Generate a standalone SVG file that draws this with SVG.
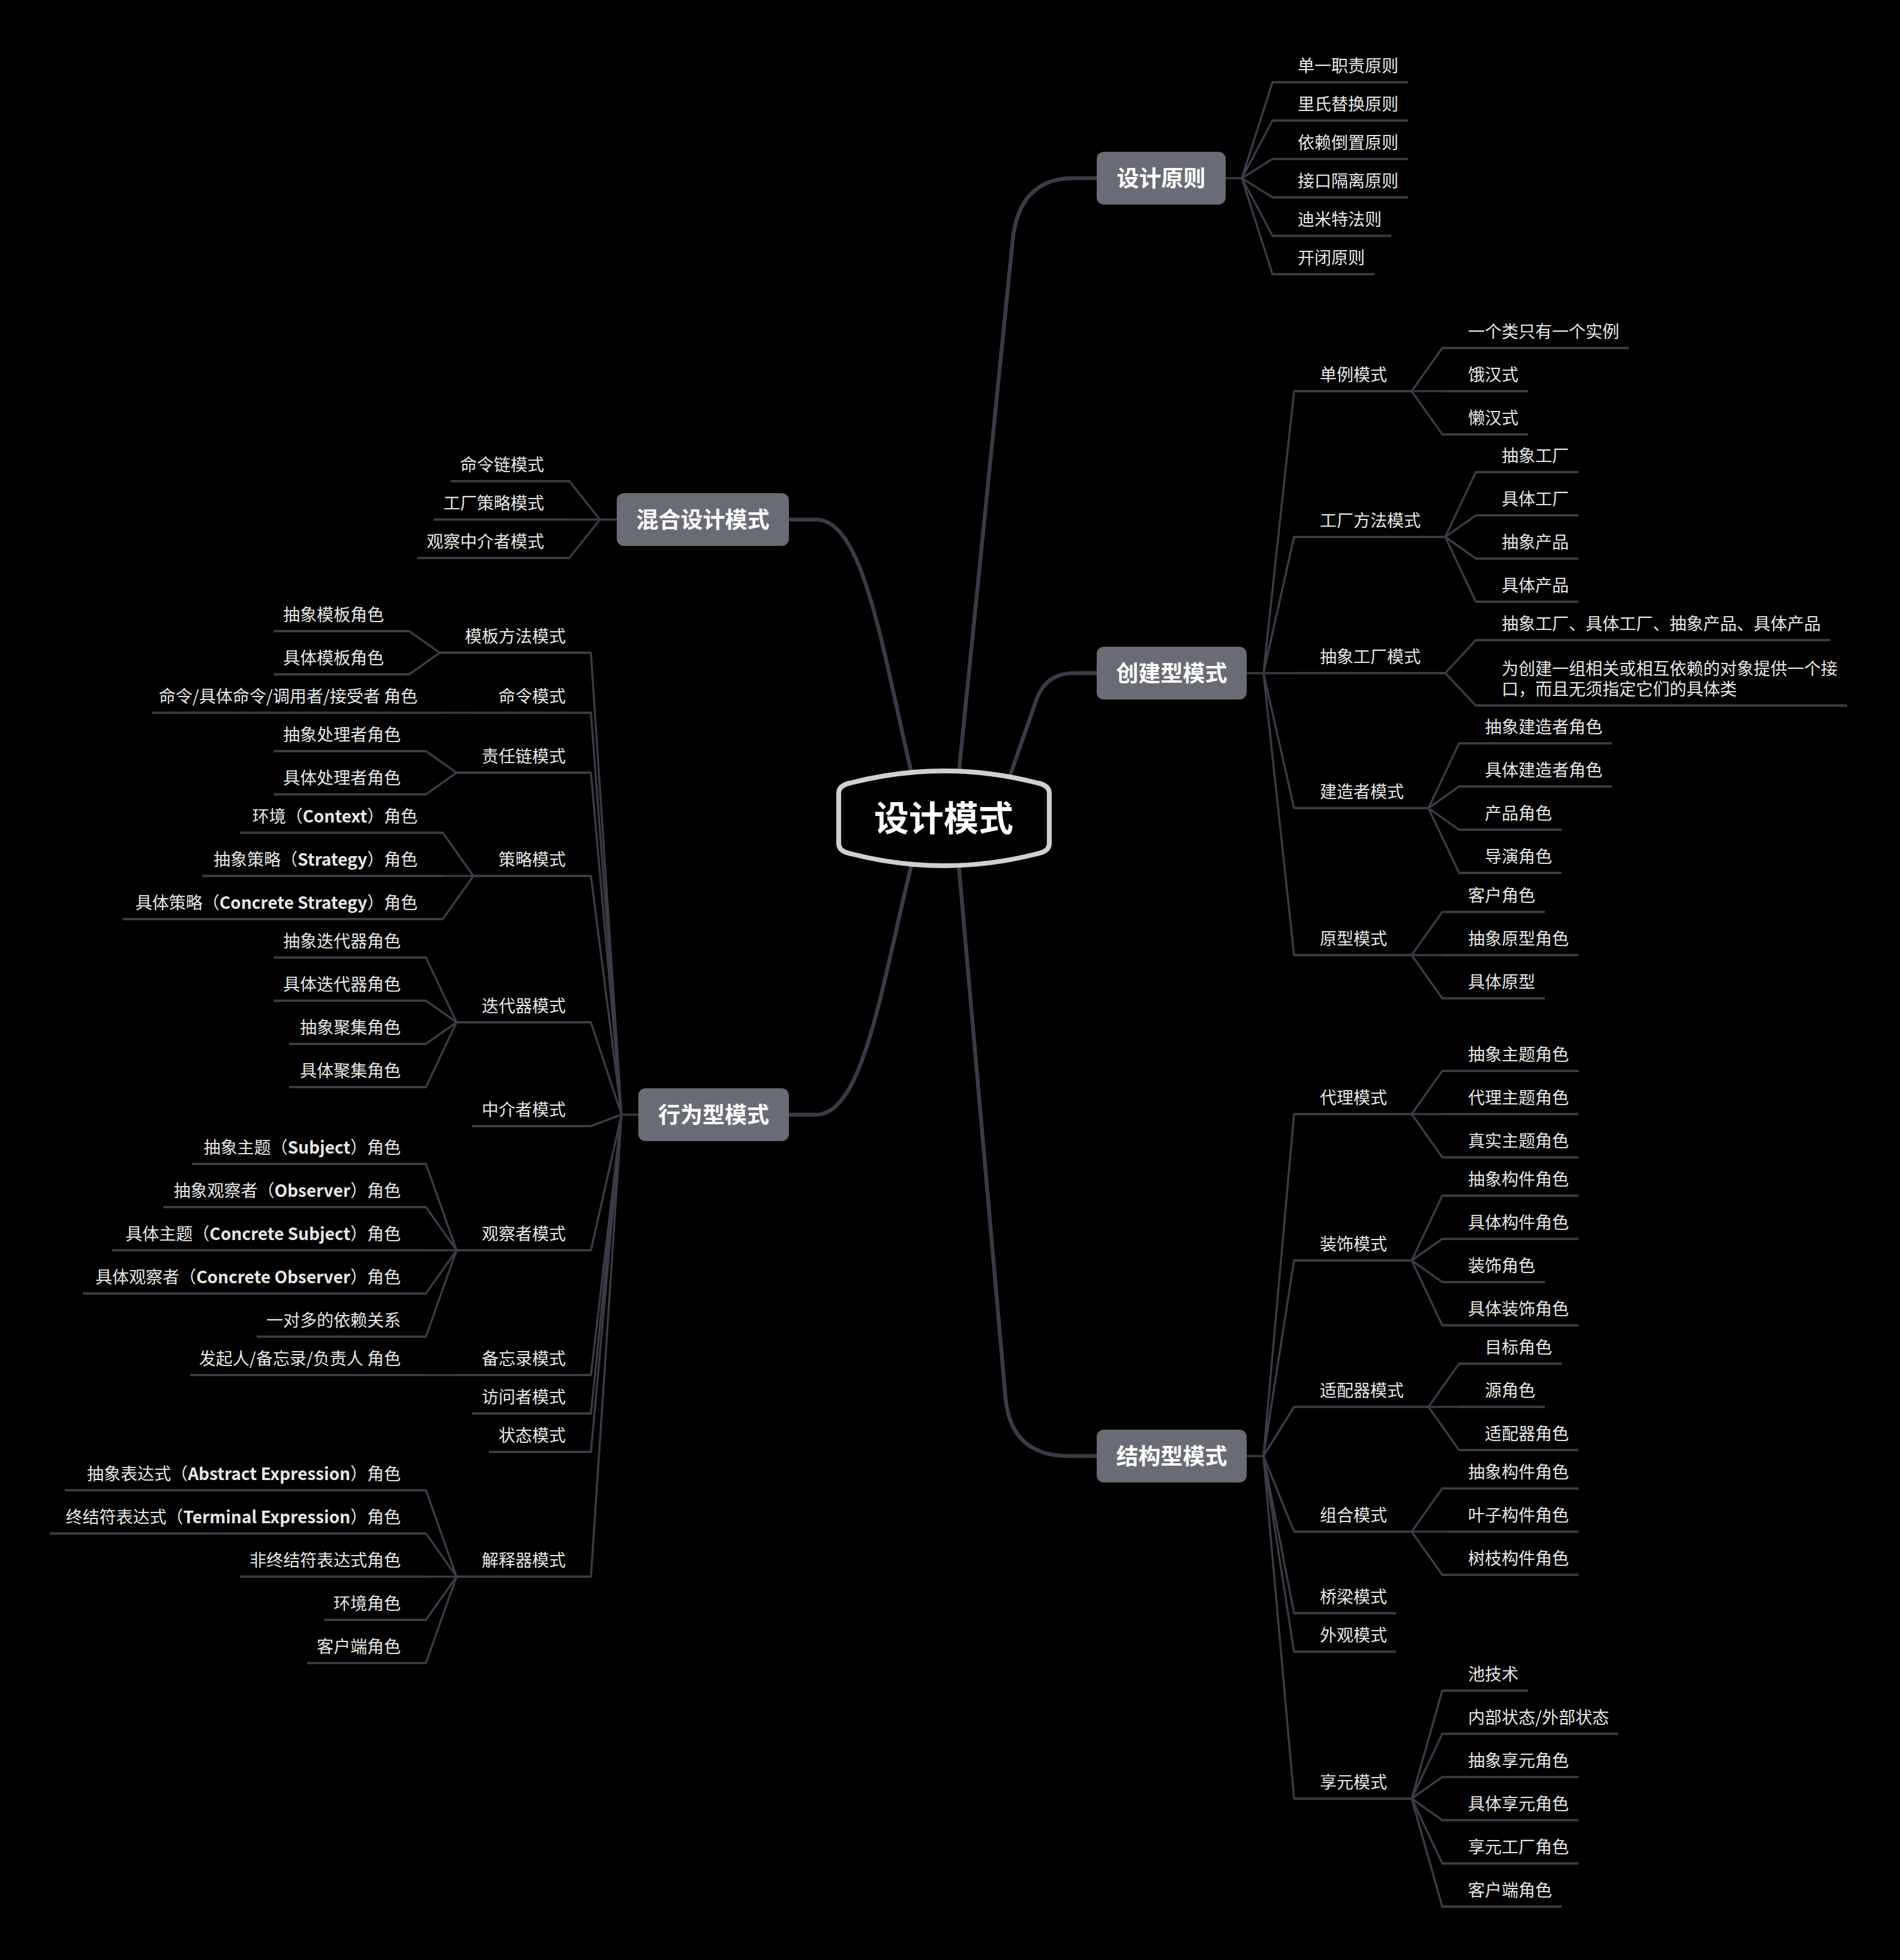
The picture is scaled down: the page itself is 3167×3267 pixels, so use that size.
<svg xmlns="http://www.w3.org/2000/svg" width="3167" height="3267" viewBox="0 0 3167 3267">
<style>
.ul{stroke:#393b46;stroke-width:4}
.cn{fill:none;stroke:#393b46;stroke-width:3.5;stroke-linejoin:round;stroke-linecap:round}
.mc{fill:none;stroke:#393b46;stroke-width:6.5;stroke-linecap:round}
.t{font-family:"Noto Sans CJK SC","Noto Sans",sans-serif;font-size:28px;fill:#e8e8e8}
.r{text-anchor:end}
.lt{font-weight:bold}
.mt{font-family:"Noto Sans CJK SC","Noto Sans",sans-serif;font-size:37px;font-weight:bold;fill:#ffffff;text-anchor:middle}
.box{fill:#6a6c75}
</style>
<rect x="0" y="0" width="3167" height="3267" fill="#000000"/>
<g id="connectors">
<path class="mc" d="M1597,1300 L1688,400 Q1699,297 1790,297 L1828,297"/>
<path class="mc" d="M1681,1300 L1728,1165 Q1744,1122 1790,1122 L1828,1122"/>
<path class="mc" d="M1597,1430 L1676,2330 Q1685,2427 1782,2427 L1828,2427"/>
<path class="mc" d="M1522,1300 C1470,1080 1440,866 1360,866 L1315,866"/>
<path class="mc" d="M1522,1430 C1470,1640 1440,1858 1360,1858 L1315,1858"/>
<path class="cn" d="M2043,297H2070 M2070,297L2121,137 M2070,297L2121,201 M2070,297L2121,265 M2070,297L2121,329 M2070,297L2121,393 M2070,297L2121,457"/>
<path class="cn" d="M2078,1122H2106 M2106,1122L2157,652 M2106,1122L2157,895 M2106,1122L2157,1122 M2106,1122L2157,1347 M2106,1122L2157,1592"/>
<path class="cn" d="M2353,652L2404,580 M2353,652L2404,652 M2353,652L2404,724"/>
<path class="cn" d="M2409,895L2460,787 M2409,895L2460,859 M2409,895L2460,931 M2409,895L2460,1003"/>
<path class="cn" d="M2409,1122L2460,1067 M2409,1122L2460,1176"/>
<path class="cn" d="M2381,1347L2432,1239 M2381,1347L2432,1311 M2381,1347L2432,1383 M2381,1347L2432,1455"/>
<path class="cn" d="M2353,1592L2404,1520 M2353,1592L2404,1592 M2353,1592L2404,1664"/>
<path class="cn" d="M2078,2427H2106 M2106,2427L2157,1857 M2106,2427L2157,2101 M2106,2427L2157,2345 M2106,2427L2157,2553 M2106,2427L2157,2689 M2106,2427L2157,2753 M2106,2427L2157,2998"/>
<path class="cn" d="M2353,1857L2404,1785 M2353,1857L2404,1857 M2353,1857L2404,1929"/>
<path class="cn" d="M2353,2101L2404,1993 M2353,2101L2404,2065 M2353,2101L2404,2137 M2353,2101L2404,2209"/>
<path class="cn" d="M2381,2345L2432,2273 M2381,2345L2432,2345 M2381,2345L2432,2417"/>
<path class="cn" d="M2353,2553L2404,2481 M2353,2553L2404,2553 M2353,2553L2404,2625"/>
<path class="cn" d="M2353,2998L2404,2818 M2353,2998L2404,2890 M2353,2998L2404,2962 M2353,2998L2404,3034 M2353,2998L2404,3106 M2353,2998L2404,3178"/>
<path class="cn" d="M1028,866H1000 M1000,866L949,802 M1000,866L949,866 M1000,866L949,930"/>
<path class="cn" d="M1064,1858H1036 M1036,1858L985,1088 M1036,1858L985,1188 M1036,1858L985,1288 M1036,1858L985,1460 M1036,1858L985,1704 M1036,1858L985,1877 M1036,1858L985,2084 M1036,1858L985,2292 M1036,1858L985,2356 M1036,1858L985,2420 M1036,1858L985,2628"/>
<path class="cn" d="M733,1088L682,1052 M733,1088L682,1124"/>
<path class="cn" d="M789,1188L738,1188"/>
<path class="cn" d="M761,1288L710,1252 M761,1288L710,1324"/>
<path class="cn" d="M789,1460L738,1388 M789,1460L738,1460 M789,1460L738,1532"/>
<path class="cn" d="M761,1704L710,1596 M761,1704L710,1668 M761,1704L710,1740 M761,1704L710,1812"/>
<path class="cn" d="M761,2084L710,1940 M761,2084L710,2012 M761,2084L710,2084 M761,2084L710,2156 M761,2084L710,2228"/>
<path class="cn" d="M761,2292L710,2292"/>
<path class="cn" d="M761,2628L710,2484 M761,2628L710,2556 M761,2628L710,2628 M761,2628L710,2700 M761,2628L710,2772"/>
</g>
<g id="center">
<path d="M1398,1322 Q1398,1309 1418,1305 Q1573.5,1265 1729,1305 Q1749,1309 1749,1322 L1749,1406 Q1749,1419 1729,1423 Q1573.5,1463 1418,1423 Q1398,1419 1398,1406 Z" fill="#000000" stroke="#d0d0d0" stroke-width="8"/>
<text x="1573" y="1385" font-family="Noto Sans CJK SC, sans-serif" font-size="58" font-weight="bold" fill="#ffffff" text-anchor="middle">设计模式</text>
</g>
<g id="design-principles"><rect class="box" x="1828" y="253" width="215" height="88" rx="12"/><text class="mt" x="1935.5" y="311">设计原则</text></g>
<g id="creational"><rect class="box" x="1828" y="1078" width="250" height="88" rx="12"/><text class="mt" x="1953" y="1136">创建型模式</text></g>
<g id="structural"><rect class="box" x="1828" y="2383" width="250" height="88" rx="12"/><text class="mt" x="1953" y="2441">结构型模式</text></g>
<g id="hybrid"><rect class="box" x="1028" y="822" width="287" height="88" rx="12"/><text class="mt" x="1171.5" y="880">混合设计模式</text></g>
<g id="behavioral"><rect class="box" x="1064" y="1814" width="251" height="88" rx="12"/><text class="mt" x="1189.5" y="1872">行为型模式</text></g>

<g id="p1"><text class="t" x="2163" y="120">单一职责原则</text><line class="ul" x1="2121" y1="137" x2="2347" y2="137"/></g>
<g id="p2"><text class="t" x="2163" y="184">里氏替换原则</text><line class="ul" x1="2121" y1="201" x2="2347" y2="201"/></g>
<g id="p3"><text class="t" x="2163" y="248">依赖倒置原则</text><line class="ul" x1="2121" y1="265" x2="2347" y2="265"/></g>
<g id="p4"><text class="t" x="2163" y="312">接口隔离原则</text><line class="ul" x1="2121" y1="329" x2="2347" y2="329"/></g>
<g id="p5"><text class="t" x="2163" y="376">迪米特法则</text><line class="ul" x1="2121" y1="393" x2="2319" y2="393"/></g>
<g id="p6"><text class="t" x="2163" y="440">开闭原则</text><line class="ul" x1="2121" y1="457" x2="2291" y2="457"/></g>

<g id="singleton"><text class="t" x="2200" y="635">单例模式</text><line class="ul" x1="2157" y1="652" x2="2353" y2="652"/></g>
<g id="singleton-1"><text class="t" x="2447" y="563">一个类只有一个实例</text><line class="ul" x1="2404" y1="580" x2="2715" y2="580"/></g>
<g id="singleton-2"><text class="t" x="2447" y="635">饿汉式</text><line class="ul" x1="2404" y1="652" x2="2547" y2="652"/></g>
<g id="singleton-3"><text class="t" x="2447" y="707">懒汉式</text><line class="ul" x1="2404" y1="724" x2="2547" y2="724"/></g>

<g id="factory-method"><text class="t" x="2200" y="878">工厂方法模式</text><line class="ul" x1="2157" y1="895" x2="2409" y2="895"/></g>
<g id="fm-1"><text class="t" x="2503" y="770">抽象工厂</text><line class="ul" x1="2460" y1="787" x2="2631" y2="787"/></g>
<g id="fm-2"><text class="t" x="2503" y="842">具体工厂</text><line class="ul" x1="2460" y1="859" x2="2631" y2="859"/></g>
<g id="fm-3"><text class="t" x="2503" y="914">抽象产品</text><line class="ul" x1="2460" y1="931" x2="2631" y2="931"/></g>
<g id="fm-4"><text class="t" x="2503" y="986">具体产品</text><line class="ul" x1="2460" y1="1003" x2="2631" y2="1003"/></g>

<g id="abstract-factory"><text class="t" x="2200" y="1105">抽象工厂模式</text><line class="ul" x1="2157" y1="1122" x2="2409" y2="1122"/></g>
<g id="af-1"><text class="t" x="2503" y="1050">抽象工厂、具体工厂、抽象产品、具体产品</text><line class="ul" x1="2460" y1="1067" x2="3051" y2="1067"/></g>
<g id="af-2"><text class="t" x="2503" y="1125">为创建一组相关或相互依赖的对象提供一个接</text><text class="t" x="2503" y="1159">口，而且无须指定它们的具体类</text><line class="ul" x1="2460" y1="1176" x2="3079" y2="1176"/></g>

<g id="builder"><text class="t" x="2200" y="1330">建造者模式</text><line class="ul" x1="2157" y1="1347" x2="2381" y2="1347"/></g>
<g id="b-1"><text class="t" x="2475" y="1222">抽象建造者角色</text><line class="ul" x1="2432" y1="1239" x2="2687" y2="1239"/></g>
<g id="b-2"><text class="t" x="2475" y="1294">具体建造者角色</text><line class="ul" x1="2432" y1="1311" x2="2687" y2="1311"/></g>
<g id="b-3"><text class="t" x="2475" y="1366">产品角色</text><line class="ul" x1="2432" y1="1383" x2="2603" y2="1383"/></g>
<g id="b-4"><text class="t" x="2475" y="1438">导演角色</text><line class="ul" x1="2432" y1="1455" x2="2603" y2="1455"/></g>

<g id="prototype"><text class="t" x="2200" y="1575">原型模式</text><line class="ul" x1="2157" y1="1592" x2="2353" y2="1592"/></g>
<g id="pt-1"><text class="t" x="2447" y="1503">客户角色</text><line class="ul" x1="2404" y1="1520" x2="2575" y2="1520"/></g>
<g id="pt-2"><text class="t" x="2447" y="1575">抽象原型角色</text><line class="ul" x1="2404" y1="1592" x2="2631" y2="1592"/></g>
<g id="pt-3"><text class="t" x="2447" y="1647">具体原型</text><line class="ul" x1="2404" y1="1664" x2="2575" y2="1664"/></g>

<g id="proxy"><text class="t" x="2200" y="1840">代理模式</text><line class="ul" x1="2157" y1="1857" x2="2353" y2="1857"/></g>
<g id="px-1"><text class="t" x="2447" y="1768">抽象主题角色</text><line class="ul" x1="2404" y1="1785" x2="2631" y2="1785"/></g>
<g id="px-2"><text class="t" x="2447" y="1840">代理主题角色</text><line class="ul" x1="2404" y1="1857" x2="2631" y2="1857"/></g>
<g id="px-3"><text class="t" x="2447" y="1912">真实主题角色</text><line class="ul" x1="2404" y1="1929" x2="2631" y2="1929"/></g>

<g id="decorator"><text class="t" x="2200" y="2084">装饰模式</text><line class="ul" x1="2157" y1="2101" x2="2353" y2="2101"/></g>
<g id="dc-1"><text class="t" x="2447" y="1976">抽象构件角色</text><line class="ul" x1="2404" y1="1993" x2="2631" y2="1993"/></g>
<g id="dc-2"><text class="t" x="2447" y="2048">具体构件角色</text><line class="ul" x1="2404" y1="2065" x2="2631" y2="2065"/></g>
<g id="dc-3"><text class="t" x="2447" y="2120">装饰角色</text><line class="ul" x1="2404" y1="2137" x2="2575" y2="2137"/></g>
<g id="dc-4"><text class="t" x="2447" y="2192">具体装饰角色</text><line class="ul" x1="2404" y1="2209" x2="2631" y2="2209"/></g>

<g id="adapter"><text class="t" x="2200" y="2328">适配器模式</text><line class="ul" x1="2157" y1="2345" x2="2381" y2="2345"/></g>
<g id="ad-1"><text class="t" x="2475" y="2256">目标角色</text><line class="ul" x1="2432" y1="2273" x2="2603" y2="2273"/></g>
<g id="ad-2"><text class="t" x="2475" y="2328">源角色</text><line class="ul" x1="2432" y1="2345" x2="2575" y2="2345"/></g>
<g id="ad-3"><text class="t" x="2475" y="2400">适配器角色</text><line class="ul" x1="2432" y1="2417" x2="2631" y2="2417"/></g>

<g id="composite"><text class="t" x="2200" y="2536">组合模式</text><line class="ul" x1="2157" y1="2553" x2="2353" y2="2553"/></g>
<g id="cp-1"><text class="t" x="2447" y="2464">抽象构件角色</text><line class="ul" x1="2404" y1="2481" x2="2631" y2="2481"/></g>
<g id="cp-2"><text class="t" x="2447" y="2536">叶子构件角色</text><line class="ul" x1="2404" y1="2553" x2="2631" y2="2553"/></g>
<g id="cp-3"><text class="t" x="2447" y="2608">树枝构件角色</text><line class="ul" x1="2404" y1="2625" x2="2631" y2="2625"/></g>

<g id="bridge"><text class="t" x="2200" y="2672">桥梁模式</text><line class="ul" x1="2157" y1="2689" x2="2327" y2="2689"/></g>
<g id="facade"><text class="t" x="2200" y="2736">外观模式</text><line class="ul" x1="2157" y1="2753" x2="2327" y2="2753"/></g>

<g id="flyweight"><text class="t" x="2200" y="2981">享元模式</text><line class="ul" x1="2157" y1="2998" x2="2353" y2="2998"/></g>
<g id="fw-1"><text class="t" x="2447" y="2801">池技术</text><line class="ul" x1="2404" y1="2818" x2="2547" y2="2818"/></g>
<g id="fw-2"><text class="t" x="2447" y="2873">内部状态/外部状态</text><line class="ul" x1="2404" y1="2890" x2="2697" y2="2890"/></g>
<g id="fw-3"><text class="t" x="2447" y="2945">抽象享元角色</text><line class="ul" x1="2404" y1="2962" x2="2631" y2="2962"/></g>
<g id="fw-4"><text class="t" x="2447" y="3017">具体享元角色</text><line class="ul" x1="2404" y1="3034" x2="2631" y2="3034"/></g>
<g id="fw-5"><text class="t" x="2447" y="3089">享元工厂角色</text><line class="ul" x1="2404" y1="3106" x2="2631" y2="3106"/></g>
<g id="fw-6"><text class="t" x="2447" y="3161">客户端角色</text><line class="ul" x1="2404" y1="3178" x2="2603" y2="3178"/></g>

<g id="h-1"><text class="t r" x="907" y="785">命令链模式</text><line class="ul" x1="751" y1="802" x2="949" y2="802"/></g>
<g id="h-2"><text class="t r" x="907" y="849">工厂策略模式</text><line class="ul" x1="723" y1="866" x2="949" y2="866"/></g>
<g id="h-3"><text class="t r" x="907" y="913">观察中介者模式</text><line class="ul" x1="695" y1="930" x2="949" y2="930"/></g>

<g id="template"><text class="t r" x="943" y="1071">模板方法模式</text><line class="ul" x1="733" y1="1088" x2="985" y2="1088"/></g>
<g id="tp-1"><text class="t r" x="640" y="1035">抽象模板角色</text><line class="ul" x1="456" y1="1052" x2="682" y2="1052"/></g>
<g id="tp-2"><text class="t r" x="640" y="1107">具体模板角色</text><line class="ul" x1="456" y1="1124" x2="682" y2="1124"/></g>

<g id="command"><text class="t r" x="943" y="1171">命令模式</text><line class="ul" x1="789" y1="1188" x2="985" y2="1188"/></g>
<g id="cm-1"><text class="t r" x="696" y="1171">命令/具体命令/调用者/接受者 角色</text><line class="ul" x1="253" y1="1188" x2="738" y2="1188"/></g>

<g id="chain"><text class="t r" x="943" y="1271">责任链模式</text><line class="ul" x1="761" y1="1288" x2="985" y2="1288"/></g>
<g id="ch-1"><text class="t r" x="668" y="1235">抽象处理者角色</text><line class="ul" x1="456" y1="1252" x2="710" y2="1252"/></g>
<g id="ch-2"><text class="t r" x="668" y="1307">具体处理者角色</text><line class="ul" x1="456" y1="1324" x2="710" y2="1324"/></g>

<g id="strategy"><text class="t r" x="943" y="1443">策略模式</text><line class="ul" x1="789" y1="1460" x2="985" y2="1460"/></g>
<g id="st-1"><text class="t r" x="696" y="1371">环境（<tspan class="lt">Context</tspan>）角色</text><line class="ul" x1="400" y1="1388" x2="738" y2="1388"/></g>
<g id="st-2"><text class="t r" x="696" y="1443">抽象策略（<tspan class="lt">Strategy</tspan>）角色</text><line class="ul" x1="337" y1="1460" x2="738" y2="1460"/></g>
<g id="st-3"><text class="t r" x="696" y="1515">具体策略（<tspan class="lt">Concrete Strategy</tspan>）角色</text><line class="ul" x1="204" y1="1532" x2="738" y2="1532"/></g>

<g id="iterator"><text class="t r" x="943" y="1687">迭代器模式</text><line class="ul" x1="761" y1="1704" x2="985" y2="1704"/></g>
<g id="it-1"><text class="t r" x="668" y="1579">抽象迭代器角色</text><line class="ul" x1="456" y1="1596" x2="710" y2="1596"/></g>
<g id="it-2"><text class="t r" x="668" y="1651">具体迭代器角色</text><line class="ul" x1="456" y1="1668" x2="710" y2="1668"/></g>
<g id="it-3"><text class="t r" x="668" y="1723">抽象聚集角色</text><line class="ul" x1="482" y1="1740" x2="710" y2="1740"/></g>
<g id="it-4"><text class="t r" x="668" y="1795">具体聚集角色</text><line class="ul" x1="482" y1="1812" x2="710" y2="1812"/></g>

<g id="mediator"><text class="t r" x="943" y="1860">中介者模式</text><line class="ul" x1="787" y1="1877" x2="985" y2="1877"/></g>

<g id="observer"><text class="t r" x="943" y="2067">观察者模式</text><line class="ul" x1="761" y1="2084" x2="985" y2="2084"/></g>
<g id="ob-1"><text class="t r" x="668" y="1923">抽象主题（<tspan class="lt">Subject</tspan>）角色</text><line class="ul" x1="320" y1="1940" x2="710" y2="1940"/></g>
<g id="ob-2"><text class="t r" x="668" y="1995">抽象观察者（<tspan class="lt">Observer</tspan>）角色</text><line class="ul" x1="272" y1="2012" x2="710" y2="2012"/></g>
<g id="ob-3"><text class="t r" x="668" y="2067">具体主题（<tspan class="lt">Concrete Subject</tspan>）角色</text><line class="ul" x1="187" y1="2084" x2="710" y2="2084"/></g>
<g id="ob-4"><text class="t r" x="668" y="2139">具体观察者（<tspan class="lt">Concrete Observer</tspan>）角色</text><line class="ul" x1="138" y1="2156" x2="710" y2="2156"/></g>
<g id="ob-5"><text class="t r" x="668" y="2211">一对多的依赖关系</text><line class="ul" x1="428" y1="2228" x2="710" y2="2228"/></g>

<g id="memento"><text class="t r" x="943" y="2275">备忘录模式</text><line class="ul" x1="761" y1="2292" x2="985" y2="2292"/></g>
<g id="mm-1"><text class="t r" x="668" y="2275">发起人/备忘录/负责人 角色</text><line class="ul" x1="317" y1="2292" x2="710" y2="2292"/></g>

<g id="visitor"><text class="t r" x="943" y="2339">访问者模式</text><line class="ul" x1="787" y1="2356" x2="985" y2="2356"/></g>
<g id="state"><text class="t r" x="943" y="2403">状态模式</text><line class="ul" x1="815" y1="2420" x2="985" y2="2420"/></g>

<g id="interpreter"><text class="t r" x="943" y="2611">解释器模式</text><line class="ul" x1="761" y1="2628" x2="985" y2="2628"/></g>
<g id="ip-1"><text class="t r" x="668" y="2467">抽象表达式（<tspan class="lt">Abstract Expression</tspan>）角色</text><line class="ul" x1="108" y1="2484" x2="710" y2="2484"/></g>
<g id="ip-2"><text class="t r" x="668" y="2539">终结符表达式（<tspan class="lt">Terminal Expression</tspan>）角色</text><line class="ul" x1="83" y1="2556" x2="710" y2="2556"/></g>
<g id="ip-3"><text class="t r" x="668" y="2611">非终结符表达式角色</text><line class="ul" x1="400" y1="2628" x2="710" y2="2628"/></g>
<g id="ip-4"><text class="t r" x="668" y="2683">环境角色</text><line class="ul" x1="540" y1="2700" x2="710" y2="2700"/></g>
<g id="ip-5"><text class="t r" x="668" y="2755">客户端角色</text><line class="ul" x1="512" y1="2772" x2="710" y2="2772"/></g>
</svg>
